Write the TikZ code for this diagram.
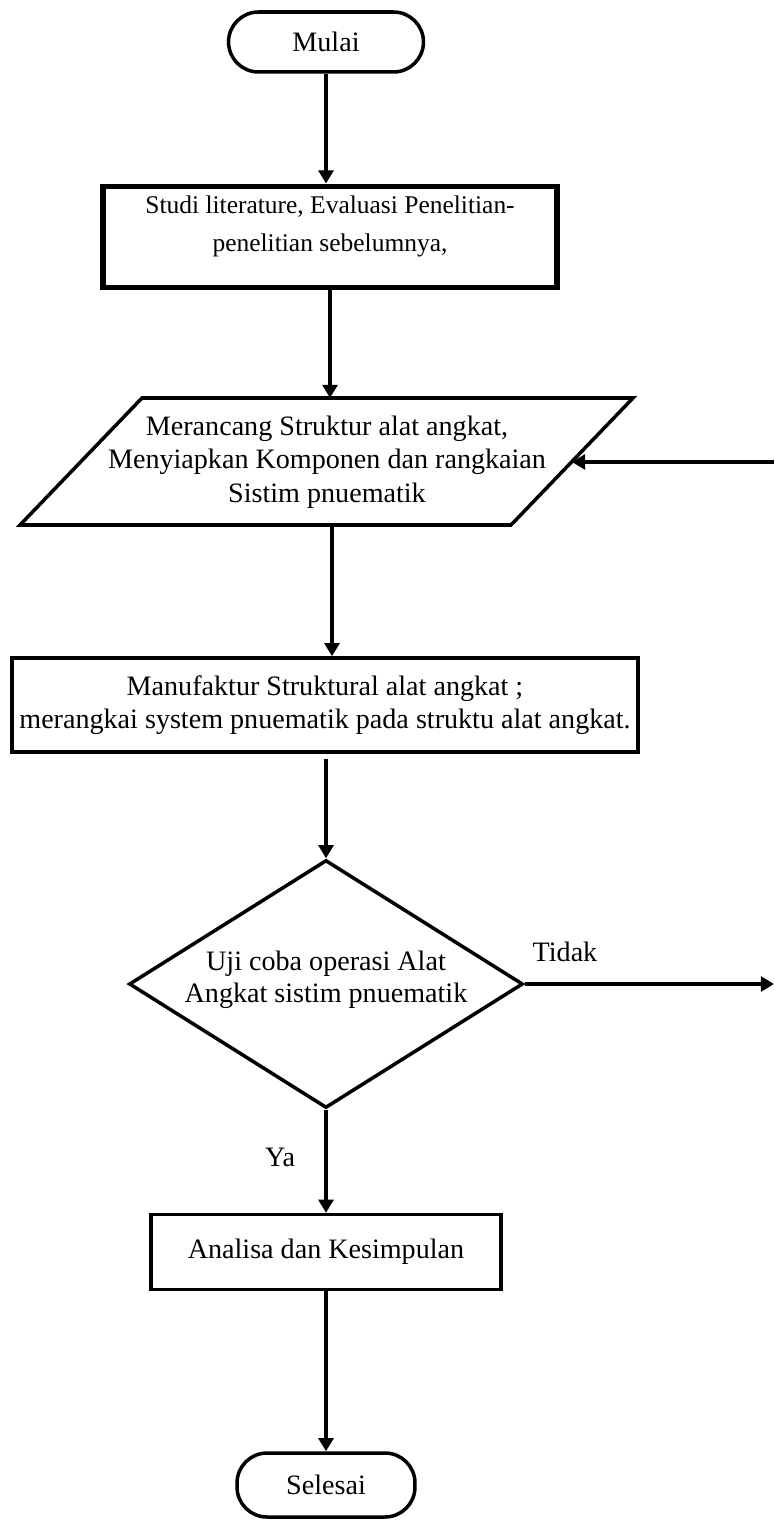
\documentclass[tikz,border=0pt]{standalone}
\usepackage{fontspec}
\setmainfont{Liberation Serif}
\usetikzlibrary{shapes.geometric}
\usetikzlibrary{arrows.meta}

\begin{document}
\begin{tikzpicture}[x=0.02cm, y=-0.02cm,
    every node/.style={font=\fontsize{16}{18.5}\selectfont, align=center},
    garis/.style={line width=2pt},
    panah/.style={garis, -{Triangle[length=7.5pt, width=8.5pt]}},
    terminal/.style={garis, draw, rectangle, rounded corners=0.6cm, minimum width=3.9cm, minimum height=1.2cm},
    proses/.style={garis, draw, rectangle, inner sep=0pt},
    putusan/.style={garis, draw, diamond, inner sep=0pt}]
                \useasboundingbox (0,0) rectangle (774,1520);

                % Mulai
                \node[terminal] (mulai) at (326, 42) {Mulai};

                % Studi literatur
                \node[proses, line width=3.4pt, minimum width=9.1cm, minimum height=2.02cm,
                      font=\fontsize{14.5}{21.5}\selectfont] (studi) at (330, 237) {Studi literature, Evaluasi Penelitian-\\penelitian sebelumnya,\\[-6pt]};

                % Perancangan (jajaran genjang)
                \draw[garis, line join=miter] (20,525) -- (142,398) -- (633,398) -- (511,525) -- cycle;
                \node[font=\fontsize{16}{19}\selectfont] (rancang) at (327, 462) {Merancang Struktur alat angkat,\\Menyiapkan Komponen dan rangkaian\\Sistim pnuematik};
                \coordinate (rancangatas) at (330, 398);
                \coordinate (rancangbawah) at (332, 525);
                \coordinate (rancangkanan) at (572, 462);

                % Manufaktur
                \node[proses, minimum width=12.52cm, minimum height=1.88cm] (manuf) at (325, 705) {Manufaktur Struktural alat angkat ;\\merangkai system pnuematik pada struktu alat angkat.};

                % Uji coba
                \node[putusan, shape aspect=1.59, minimum width=7.88cm, minimum height=4.96cm] (uji) at (326, 984) {Uji coba operasi Alat\\Angkat sistim pnuematik\\[-10pt]};

                % Analisa
                \node[proses, minimum width=7cm, minimum height=1.5cm] (analisa) at (326, 1252) {Analisa dan Kesimpulan};

                % Selesai
                \node[terminal, minimum width=3.56cm, minimum height=1.28cm] (selesai) at (326, 1485) {Selesai};

                % Alur utama
                \draw[panah] (mulai.south) -- (mulai.south |- studi.north);
                \draw[panah] (studi.south) -- (rancangatas);
                \draw[panah] (rancangbawah) -- (rancangbawah |- manuf.north);
                \draw[panah, shorten <=3pt] (uji.north |- manuf.south) -- (uji.north);
                \draw[panah] (uji.south) -- (uji.south |- analisa.north);
                \draw[panah] (analisa.south) -- (selesai.north);

                % Cabang Tidak dan kembali
                \coordinate (tidakujung) at (uji.east -| 774,0);
                \coordinate (balik) at (rancangkanan -| 774,0);
                \draw[panah] (uji.east) -- (tidakujung);
                \draw[panah] (balik) -- (rancangkanan);
                \node[anchor=south west] (tidak) at ([xshift=1pt, yshift=9pt]uji.east) {Tidak};
                \node (ya) at (280, 1157) {Ya};
            \end{tikzpicture}
\end{document}
